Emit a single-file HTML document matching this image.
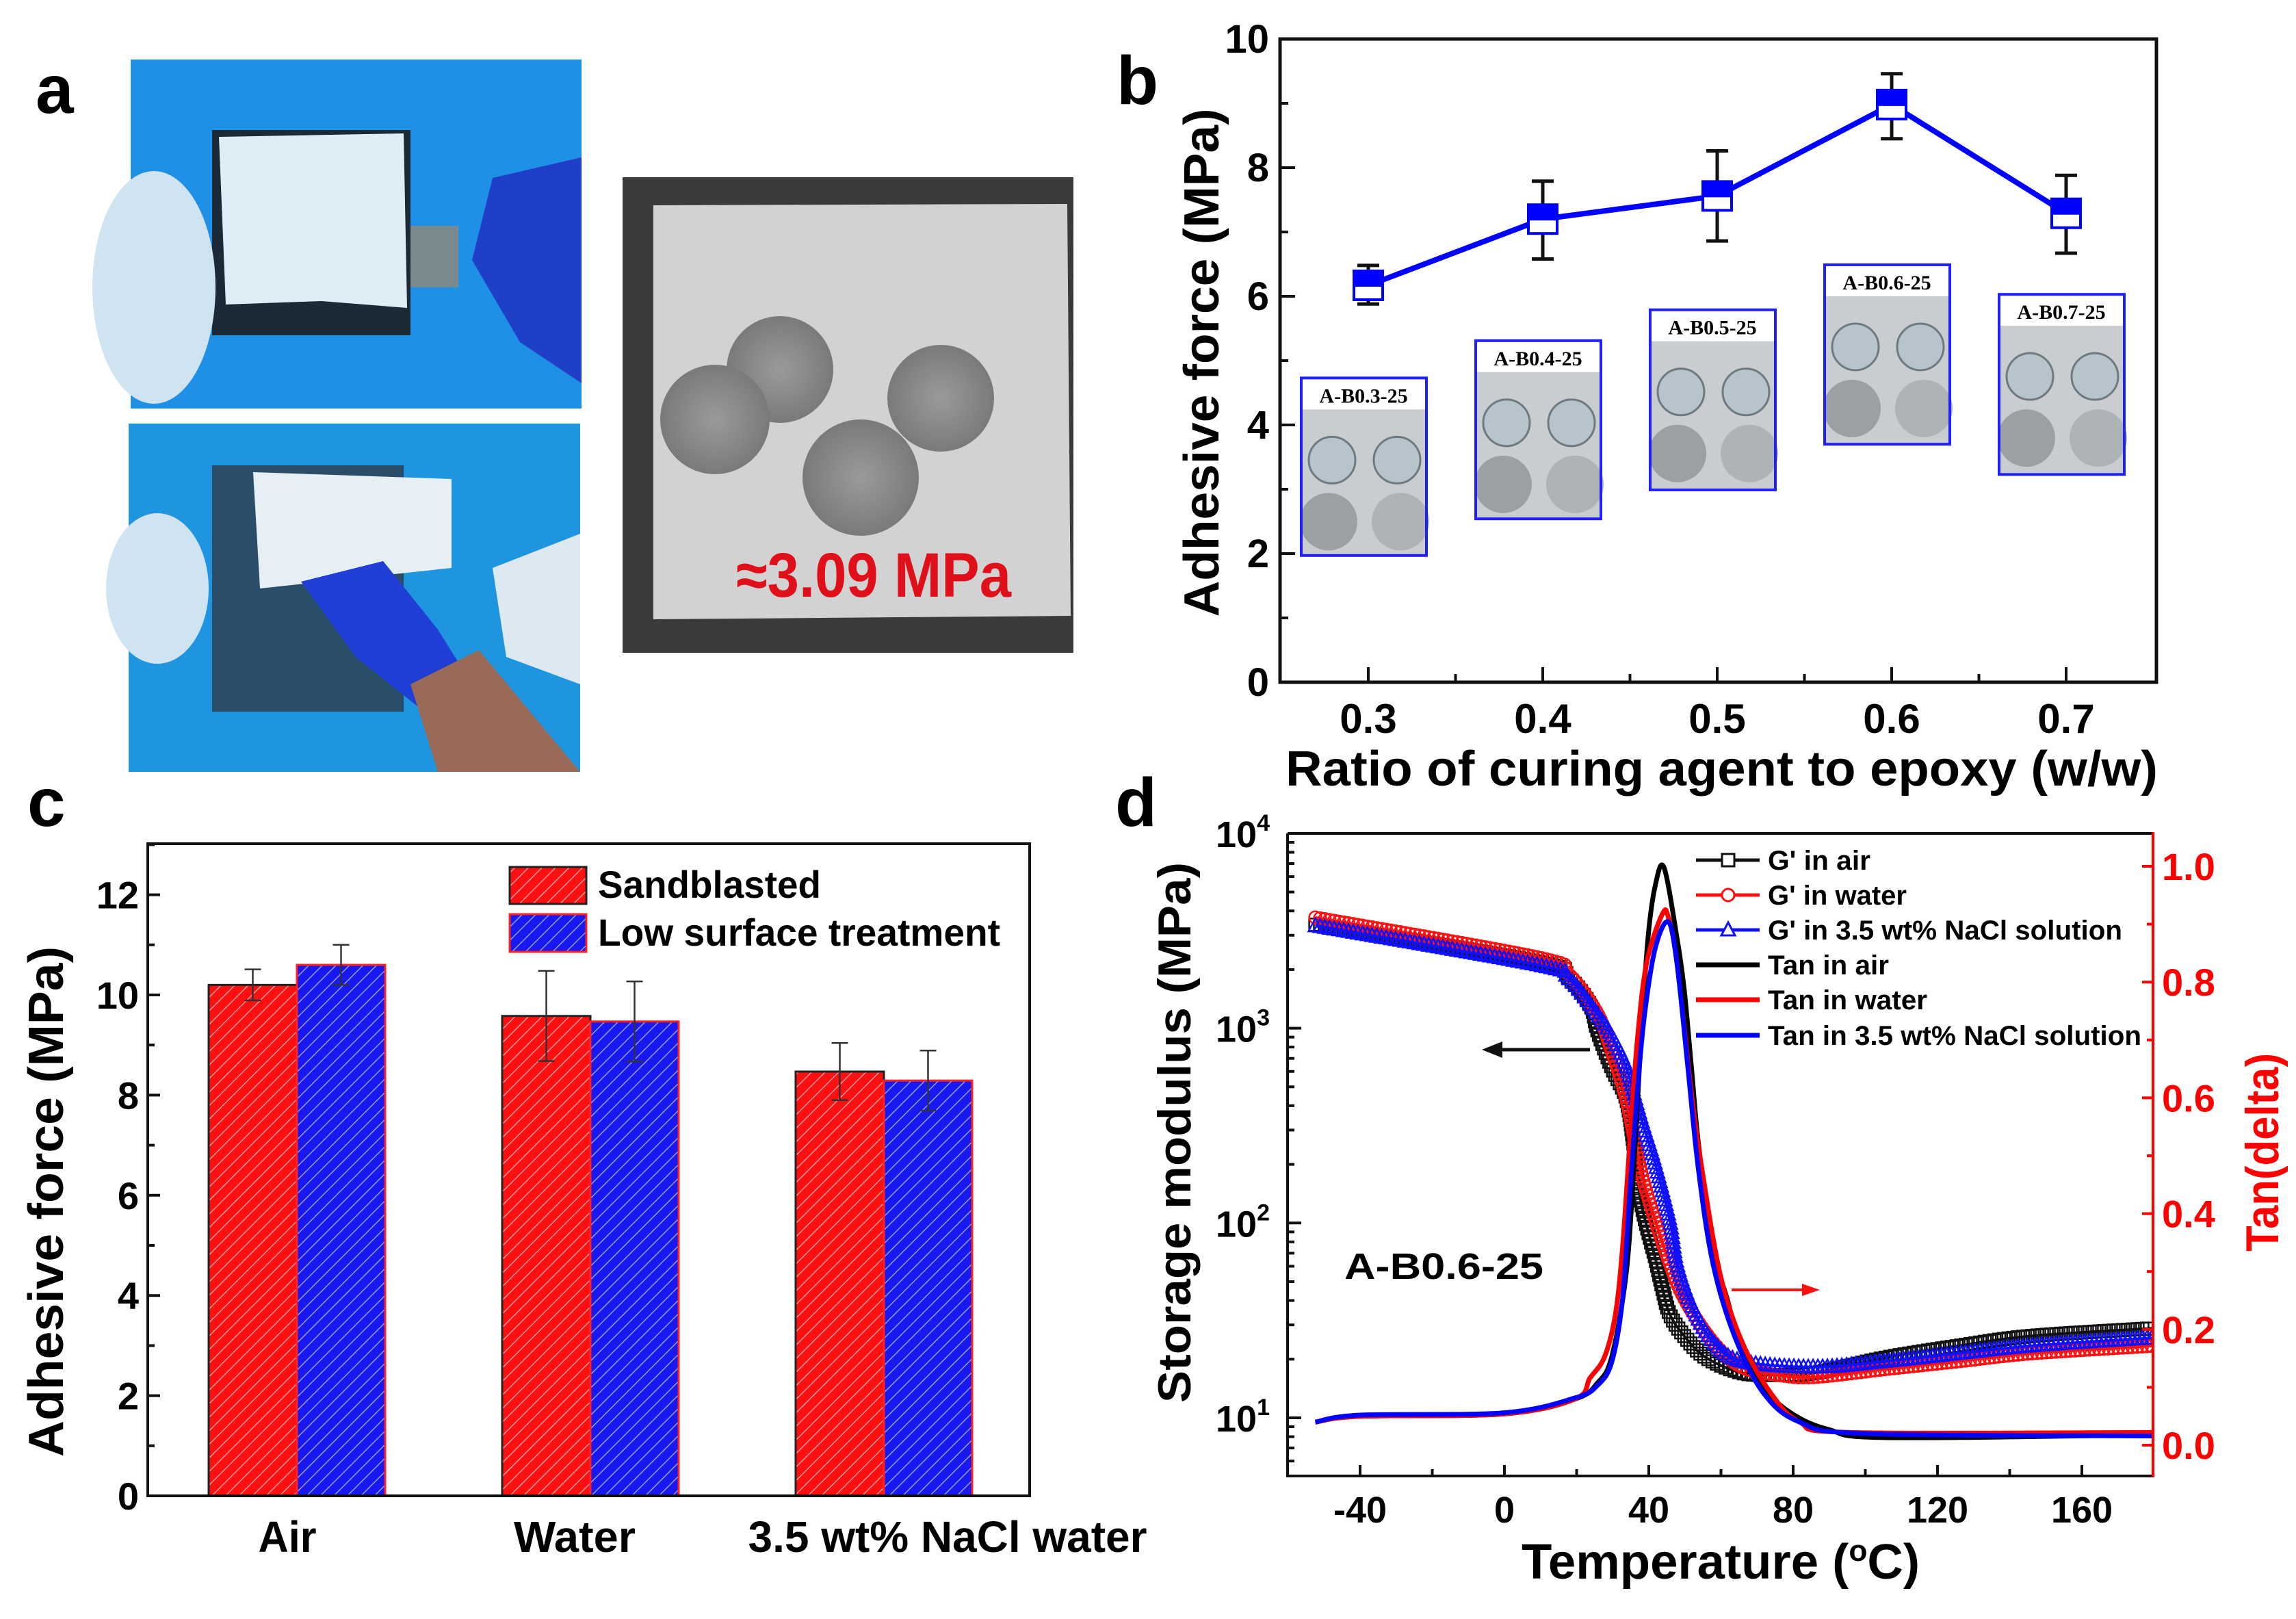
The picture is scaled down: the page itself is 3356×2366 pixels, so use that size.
<!DOCTYPE html>
<html><head><meta charset="utf-8"><style>
html,body{margin:0;padding:0;background:#fff;}
svg{display:block;font-family:"Liberation Sans",Arial,sans-serif;}
</style></head><body>
<svg id="fig" width="3356" height="2366" viewBox="0 0 3356 2366" xmlns="http://www.w3.org/2000/svg">
<defs>
<pattern id="hatchR" width="14" height="14" patternUnits="userSpaceOnUse" patternTransform="rotate(45)">
<rect width="14" height="14" fill="#ff1010"/><line x1="0" y1="0" x2="0" y2="14" stroke="#ff9a9a" stroke-width="3"/></pattern>
<pattern id="hatchB" width="14" height="14" patternUnits="userSpaceOnUse" patternTransform="rotate(45)">
<rect width="14" height="14" fill="#1818f0"/><line x1="0" y1="0" x2="0" y2="14" stroke="#9a9aff" stroke-width="3"/></pattern>
<radialGradient id="disc" cx="50%" cy="50%" r="50%"><stop offset="0" stop-color="#9a9a9a"/><stop offset="1" stop-color="#7a7a7a"/></radialGradient>
</defs>

<text x="52" y="165" font-size="100" font-weight="bold">a</text>
<text x="1632" y="152" font-size="100" font-weight="bold">b</text>
<text x="40" y="1207" font-size="100" font-weight="bold">c</text>
<text x="1630" y="1207" font-size="100" font-weight="bold">d</text>

<g>
<rect x="191" y="87" width="659" height="510" fill="#1e90e6"/>
<rect x="310" y="190" width="290" height="300" fill="#1c2a38"/>
<path d="M320 200 L590 195 L595 450 L470 440 L330 445 Z" fill="#dfeef6"/>
<ellipse cx="225" cy="420" rx="90" ry="170" fill="#cfe3f0"/>
<path d="M720 260 L850 230 L850 560 L760 500 L690 380 Z" fill="#1f3fc8"/>
<rect x="600" y="330" width="70" height="90" fill="#7a8b90"/>
</g>
<g>
<rect x="188" y="619" width="660" height="509" fill="#1f95df"/>
<rect x="310" y="680" width="280" height="360" fill="#2a4d6a"/>
<path d="M370 690 L660 700 L660 830 L380 860 Z" fill="#e6eff4"/>
<ellipse cx="230" cy="860" rx="75" ry="110" fill="#cfe4f0"/>
<path d="M440 850 L560 820 L640 920 L690 1000 L620 1040 L520 960 Z" fill="#1f3fd6"/>
<path d="M600 1000 L700 950 L848 1128 L640 1128 Z" fill="#9a6a58"/>
<path d="M720 830 L848 780 L848 1000 L740 960 Z" fill="#dde9f0"/>
</g>
<g>
<rect x="910" y="259" width="659" height="695" fill="#3a3a3a"/>
<path d="M955 300 L1560 298 L1565 900 L955 905 Z" fill="#d2d2d2"/>
<circle cx="1140" cy="540" r="78" fill="url(#disc)"/>
<circle cx="1045" cy="613" r="80" fill="url(#disc)"/>
<circle cx="1375" cy="582" r="78" fill="url(#disc)"/>
<circle cx="1258" cy="698" r="85" fill="url(#disc)"/>
<text x="1076" y="872" font-size="92" font-weight="bold" fill="#e0101a" textLength="402" lengthAdjust="spacingAndGlyphs">≈3.09 MPa</text>
</g>

<g id="panelB"></g>
<g id="panelC"></g>
<g id="panelD"></g>
</svg>
<script>
// ===== Panel b data =====
const bRatios = [0.3, 0.4, 0.5, 0.6, 0.7];
const bMeans = [6.17, 7.20, 7.56, 8.98, 7.29];
const bErrHi = [6.48, 7.79, 8.26, 9.46, 7.88];
const bErrLo = [5.88, 6.58, 6.86, 8.45, 6.67];
const bYTicks = [0, 2, 4, 6, 8, 10];
const bXTicks = [0.3, 0.4, 0.5, 0.6, 0.7];
const bInsetLabels = ["A-B0.3-25", "A-B0.4-25", "A-B0.5-25", "A-B0.6-25", "A-B0.7-25"];
const bInsetTop = [4.73, 5.31, 5.79, 6.49, 6.03];
const bInsetBottom = [1.97, 2.54, 2.99, 3.70, 3.23];

// ===== Panel c data =====
const cCategories = ["Air", "Water", "3.5 wt% NaCl water"];
const cSandblasted = [10.2, 9.58, 8.47];
const cSandErr = [0.31, 0.9, 0.57];
const cLowSurface = [10.6, 9.47, 8.29];
const cLowErr = [0.4, 0.8, 0.6];
const cYTicks = [0, 2, 4, 6, 8, 10, 12];

// ===== Panel d data =====
const dXTicks = [-40, 0, 40, 80, 120, 160];
const dLogTicks = [1, 2, 3, 4];
const dTanTicks = [0.0, 0.2, 0.4, 0.6, 0.8, 1.0];
const gAirT = [-52.4, 9.7, 17.7, 23.7, 25.7, 29.7, 33.7, 35.8, 37.8, 41.8, 43.8, 45.8, 49.8, 55.8, 65.8, 75.8, 85.9, 105.9, 125.9, 146, 179.4];
const gAirV = [3400, 2190, 1820, 1320, 980, 630, 436, 251, 129, 66, 46, 34, 26.3, 20.4, 17, 16.6, 17, 20.4, 23.4, 26.3, 28.8];
const gWaterT = [-52.4, 9.7, 17.7, 25.7, 29.7, 33.7, 37.8, 41.8, 45.8, 49.8, 57.8, 65.8, 75.8, 85.9, 105.9, 125.9, 146, 179.4];
const gWaterV = [3700, 2300, 1900, 1200, 760, 436, 186, 103, 62, 41, 24.5, 18.2, 16.6, 16.2, 17.8, 19.5, 21.4, 23.4];
const gNaclT = [-52.4, 9.7, 17.7, 25.7, 29.7, 33.7, 37.8, 41.8, 45.8, 47.8, 51.8, 57.8, 65.8, 85.9, 105.9, 125.9, 146, 179.4];
const gNaclV = [3350, 2100, 1800, 1180, 912, 630, 347, 200, 103, 62, 38, 24.5, 19.5, 18.2, 19.5, 21.4, 23.4, 25.7];
const tanAirT = [-52.4, -40, 0, 19.7, 25.7, 29.7, 33.7, 35.8, 37.8, 39.8, 41.8, 44.2, 47.8, 49.8, 51.8, 53.8, 57.8, 61.8, 65.8, 71.8, 79.8, 89.9, 105.9, 179.4];
const tanAirV = [0.04, 0.05, 0.054, 0.08, 0.107, 0.152, 0.295, 0.474, 0.698, 0.877, 0.967, 0.998, 0.877, 0.788, 0.654, 0.519, 0.34, 0.251, 0.161, 0.098, 0.054, 0.027, 0.013, 0.018];
const tanWaterT = [-52.4, -40, 0, 19.7, 23.7, 27.7, 30.7, 32.7, 34.7, 36.8, 39.4, 43.8, 45.5, 47.8, 51.8, 54.8, 59.8, 65.8, 73.8, 81.8, 95.9, 179.4];
const tanWaterV = [0.04, 0.05, 0.054, 0.08, 0.116, 0.152, 0.224, 0.34, 0.519, 0.698, 0.833, 0.918, 0.91, 0.833, 0.609, 0.474, 0.295, 0.179, 0.09, 0.04, 0.022, 0.022];
const tanNaclT = [-52.4, -40, 0, 19.7, 25.7, 29.7, 32.7, 34.7, 36.8, 38.8, 41.8, 45.4, 47.8, 50.8, 53.8, 57.8, 63.8, 71.8, 81.8, 100, 179.4];
const tanNaclV = [0.04, 0.052, 0.056, 0.082, 0.103, 0.143, 0.251, 0.43, 0.609, 0.743, 0.859, 0.904, 0.833, 0.654, 0.474, 0.313, 0.188, 0.09, 0.04, 0.02, 0.016];

const NS = "http://www.w3.org/2000/svg";
function mk(parent, tag, attrs, text) {
  const e = document.createElementNS(NS, tag);
  for (const k in attrs) e.setAttribute(k, attrs[k]);
  if (text !== undefined) e.textContent = text;
  parent.appendChild(e);
  return e;
}

// ================= Panel b =================
(function(){
  const g = document.getElementById('panelB');
  const X0 = 1871, X1 = 3152, Y0 = 57, Y1 = 997;
  const xB = v => 2000 + (v - 0.3) * 2550;
  const yB = v => 997 - v * 94;
  bInsetLabels.forEach((lab, i) => {
    const cx = xB(bRatios[i]) - 7;
    const x = cx - 91, w = 183;
    const yt = yB(bInsetTop[i]), yb = yB(bInsetBottom[i]);
    const ig = mk(g, 'g', {});
    
    
    mk(ig, 'rect', {x: x, y: yt, width: w, height: yb - yt, fill: '#c9cdd0'});
    mk(ig, 'rect', {x: x, y: yt, width: w, height: 46, fill: '#ffffff'});
    mk(ig, 'circle', {cx: x + 45, cy: yt + 120, r: 34, fill: '#b8c4cc', stroke: '#6f7a80', 'stroke-width': 3});
    mk(ig, 'circle', {cx: x + 140, cy: yt + 120, r: 34, fill: '#b8c4cc', stroke: '#6f7a80', 'stroke-width': 3});
    mk(ig, 'circle', {cx: x + 40, cy: yt + 210, r: 42, fill: '#9aa0a4'});
    mk(ig, 'circle', {cx: x + 145, cy: yt + 210, r: 42, fill: '#aeb3b6'});
    mk(ig, 'rect', {x: x, y: yt, width: w, height: yb - yt, fill: 'none', stroke: '#2020ff', 'stroke-width': 4});
    const t = mk(ig, 'text', {x: cx, y: yt + 36, 'font-size': 30, 'font-weight': 'bold', 'font-family': '"Liberation Serif",serif', 'text-anchor': 'middle'}, lab);
    
    
  });
  const fr = mk(g, 'rect', {x: X0, y: Y0, width: X1 - X0, height: Y1 - Y0, fill: 'none', stroke: '#111', 'stroke-width': 5});
  
  
  for (let v = 0; v <= 10; v++) {
    mk(g, 'line', {x1: X0, x2: X0 + (v % 2 ? 12 : 22), y1: yB(v), y2: yB(v), stroke: '#111', 'stroke-width': 4});
  }
  bYTicks.forEach(v => {
    const t = mk(g, 'text', {x: X0 - 16, y: yB(v) + 20, 'font-size': 58, 'font-weight': 'bold', 'text-anchor': 'end'}, String(v));
    
    
  });
  for (let k = 1; k <= 9; k++) {
    const v = 0.25 + k * 0.05;
    mk(g, 'line', {x1: xB(v), x2: xB(v), y1: Y1, y2: Y1 - (k % 2 ? 22 : 12), stroke: '#111', 'stroke-width': 4});
  }
  bXTicks.forEach(v => {
    const t = mk(g, 'text', {x: xB(v), y: 1071, 'font-size': 60, 'font-weight': 'bold', 'text-anchor': 'middle'}, v.toFixed(1));
    
    
  });
  const xt = mk(g, 'text', {x: 1879, y: 1148, 'font-size': 72, 'font-weight': 'bold', textLength: 1275, lengthAdjust: 'spacingAndGlyphs'}, 'Ratio of  curing agent to epoxy (w/w)');
  
  
  const yt = mk(g, 'text', {x: 0, y: 0, 'font-size': 72, 'font-weight': 'bold', 'text-anchor': 'middle', textLength: 743, lengthAdjust: 'spacingAndGlyphs', transform: 'translate(1781,530) rotate(-90)'}, 'Adhesive force (MPa)');
  
  
  const pts = bRatios.map((r, i) => xB(r) + ',' + yB(bMeans[i])).join(' ');
  const pl = mk(g, 'polyline', {points: pts, fill: 'none', stroke: '#0000ff', 'stroke-width': 8});
  
  
  bRatios.forEach((r, i) => {
    const x = xB(r);
    const eg = mk(g, 'g', {});
    
    
    mk(eg, 'line', {x1: x, x2: x, y1: yB(bErrHi[i]), y2: yB(bErrLo[i]), stroke: '#111', 'stroke-width': 5});
    mk(eg, 'line', {x1: x - 16, x2: x + 16, y1: yB(bErrHi[i]), y2: yB(bErrHi[i]), stroke: '#111', 'stroke-width': 5});
    mk(eg, 'line', {x1: x - 16, x2: x + 16, y1: yB(bErrLo[i]), y2: yB(bErrLo[i]), stroke: '#111', 'stroke-width': 5});
    const y = yB(bMeans[i]);
    const m = mk(g, 'g', {});
    
    
    mk(m, 'rect', {x: x - 21, y: y - 21, width: 42, height: 42, fill: '#fff', stroke: '#0000ff', 'stroke-width': 4});
    mk(m, 'rect', {x: x - 21, y: y - 21, width: 42, height: 23, fill: '#0000ff'});
  });
})();

// ================= Panel c =================
(function(){
  const g = document.getElementById('panelC');
  const X0 = 216, X1 = 1505, Y0 = 1233, Y1 = 2186;
  const yC = v => 2186 - v * 73.2;
  const xC = i => 434 + i * 429;
  const BW = 129;
  cCategories.forEach((c, i) => {
    const cx = xC(i);
    const r = mk(g, 'rect', {x: cx - BW, y: yC(cSandblasted[i]), width: BW, height: Y1 - yC(cSandblasted[i]), fill: 'url(#hatchR)', stroke: '#222', 'stroke-width': 3});
    
    
    const b = mk(g, 'rect', {x: cx, y: yC(cLowSurface[i]), width: BW, height: Y1 - yC(cLowSurface[i]), fill: 'url(#hatchB)', stroke: '#ff2020', 'stroke-width': 3});
    
    
    [[cx - BW / 2, cSandblasted[i], cSandErr[i]], [cx + BW / 2, cLowSurface[i], cLowErr[i]]].forEach(([x, v, e]) => {
      const eg = mk(g, 'g', {stroke: '#333', 'stroke-width': 2.5});
      
      
      mk(eg, 'line', {x1: x, x2: x, y1: yC(v + e), y2: yC(v - e)});
      mk(eg, 'line', {x1: x - 12, x2: x + 12, y1: yC(v + e), y2: yC(v + e)});
      mk(eg, 'line', {x1: x - 12, x2: x + 12, y1: yC(v - e), y2: yC(v - e)});
    });
  });
  const catW = [85, 178, 583];
  const catShift = [-14, -23, 93];
  cCategories.forEach((c, i) => {
    const t = mk(g, 'text', {x: xC(i) + catShift[i], y: 2268, 'font-size': 64, 'font-weight': 'bold', 'text-anchor': 'middle', textLength: catW[i], lengthAdjust: 'spacingAndGlyphs'}, c);
    
    
  });
  const fr = mk(g, 'rect', {x: X0, y: Y0, width: X1 - X0, height: Y1 - Y0, fill: 'none', stroke: '#111', 'stroke-width': 4});
  
  
  for (let v = 0; v <= 13; v++) {
    mk(g, 'line', {x1: X0, x2: X0 + (v % 2 ? 10 : 18), y1: yC(v), y2: yC(v), stroke: '#111', 'stroke-width': 4});
  }
  cYTicks.forEach(v => {
    const t = mk(g, 'text', {x: 203, y: yC(v) + 20, 'font-size': 56, 'font-weight': 'bold', 'text-anchor': 'end'}, String(v));
    
    
  });
  const yt = mk(g, 'text', {x: 0, y: 0, 'font-size': 72, 'font-weight': 'bold', 'text-anchor': 'middle', textLength: 746, lengthAdjust: 'spacingAndGlyphs', transform: 'translate(92,1756) rotate(-90)'}, 'Adhesive force (MPa)');
  
  
  const l1 = mk(g, 'g', {});
  
  
  mk(l1, 'rect', {x: 745, y: 1267, width: 112, height: 54, fill: 'url(#hatchR)', stroke: '#222', 'stroke-width': 3});
  mk(l1, 'text', {x: 874, y: 1312, 'font-size': 56, 'font-weight': 'bold', textLength: 326, lengthAdjust: 'spacingAndGlyphs'}, 'Sandblasted');
  const l2 = mk(g, 'g', {});
  
  
  mk(l2, 'rect', {x: 745, y: 1336, width: 112, height: 55, fill: 'url(#hatchB)', stroke: '#ff2020', 'stroke-width': 3});
  mk(l2, 'text', {x: 874, y: 1382, 'font-size': 56, 'font-weight': 'bold', textLength: 588, lengthAdjust: 'spacingAndGlyphs'}, 'Low surface treatment');
})();

// ================= Panel d =================
(function(){
  const g = document.getElementById('panelD');
  const X0 = 1882, X1 = 3147, Y0 = 1218, Y1 = 2157;
  const xD = T => 1988 + (T + 40) * 5.275;
  const yL = v => 2072 - (Math.log10(v) - 1) * 284.7;
  const yR = t => 2112 - t * 846;
  const clip = mk(g, 'clipPath', {id: 'clipD'});
  mk(clip, 'rect', {x: X0, y: Y0, width: X1 - X0, height: Y1 - Y0});
  const plot = mk(g, 'g', {'clip-path': 'url(#clipD)'});

  // smooth Catmull-Rom path through the data points
  function path(Ts, Vs, yf) {
    const P = Ts.map((T, i) => [xD(T), yf(Vs[i])]);
    let d = 'M' + P[0][0].toFixed(1) + ' ' + P[0][1].toFixed(1);
    for (let i = 0; i < P.length - 1; i++) {
      const p0 = P[i - 1] || P[i], p1 = P[i], p2 = P[i + 1], p3 = P[i + 2] || P[i + 1];
      const c1 = [p1[0] + (p2[0] - p0[0]) / 6, p1[1] + (p2[1] - p0[1]) / 6];
      const c2 = [p2[0] - (p3[0] - p1[0]) / 6, p2[1] - (p3[1] - p1[1]) / 6];
      d += ` C${c1[0].toFixed(1)} ${c1[1].toFixed(1)} ${c2[0].toFixed(1)} ${c2[1].toFixed(1)} ${p2[0].toFixed(1)} ${p2[1].toFixed(1)}`;
    }
    return d;
  }
  function markers(pEl, color, shape, nameStr) {
    const mg = mk(plot, 'g', {fill: 'none', stroke: color, 'stroke-width': 2.5});
    
    
    const L = pEl.getTotalLength();
    for (let s = 0; s <= L; s += 7) {
      const p = pEl.getPointAtLength(s);
      if (shape === 'sq') mk(mg, 'rect', {x: p.x - 9, y: p.y - 9, width: 18, height: 18});
      else if (shape === 'ci') mk(mg, 'circle', {cx: p.x, cy: p.y, r: 9});
      else mk(mg, 'path', {d: `M${p.x} ${p.y - 11} L${p.x + 10} ${p.y + 8} L${p.x - 10} ${p.y + 8} Z`});
    }
  }
  const series = [
    [gAirT, gAirV, '#111', 'sq', 'g-prime-air'],
    [gWaterT, gWaterV, '#ff1010', 'ci', 'g-prime-water'],
    [gNaclT, gNaclV, '#1010ff', 'tr', 'g-prime-nacl'],
  ];
  series.forEach(([T, V, c, sh, nm]) => {
    const p = mk(plot, 'path', {d: path(T, V, yL), fill: 'none', stroke: c, 'stroke-width': 4});
    
    
    markers(p, c, sh, nm + '-markers');
  });
  [[tanAirT, tanAirV, '#000', 'tan-air-line'], [tanWaterT, tanWaterV, '#ff0000', 'tan-water-line'], [tanNaclT, tanNaclV, '#0000ff', 'tan-nacl-line']].forEach(([T, V, c, nm]) => {
    const p = mk(plot, 'path', {d: path(T, V, yR), fill: 'none', stroke: c, 'stroke-width': 7, 'stroke-linejoin': 'round'});
    
    
  });
  const fr = mk(g, 'path', {d: `M${X0} ${Y0} L${X1} ${Y0} M${X0} ${Y0} L${X0} ${Y1} L${X1} ${Y1}`, fill: 'none', stroke: '#111', 'stroke-width': 4});
  
  
  mk(g, 'line', {x1: X1, x2: X1, y1: Y0 - 2, y2: Y1 + 2, stroke: '#ff0000', 'stroke-width': 4});
  for (let T = -40; T <= 160; T += 20) {
    mk(g, 'line', {x1: xD(T), x2: xD(T), y1: Y1, y2: Y1 - (T % 40 === 0 ? 16 : 10), stroke: '#111', 'stroke-width': 4});
  }
  dXTicks.forEach(T => {
    const t = mk(g, 'text', {x: xD(T), y: 2225, 'font-size': 54, 'font-weight': 'bold', 'text-anchor': 'middle'}, String(T));
    
    
  });
  for (let d = 0; d <= 3; d++) {
    for (let m = 1; m <= 9; m++) {
      const v = Math.pow(10, d) * m;
      const y = yL(v);
      if (y < Y0 - 1 || y > Y1) continue;
      mk(g, 'line', {x1: X0, x2: X0 + (m === 1 ? 20 : 10), y1: y, y2: y, stroke: '#111', 'stroke-width': 4});
    }
  }
  dLogTicks.forEach(p => {
    const t = mk(g, 'text', {x: 1856, y: yL(Math.pow(10, p)) + 20, 'font-size': 54, 'font-weight': 'bold', 'text-anchor': 'end'});
    
    
    mk(t, 'tspan', {}, '10');
    mk(t, 'tspan', {dy: -24, 'font-size': 34}, String(p));
  });
  for (let k = 0; k <= 10; k++) {
    const v = k * 0.1;
    mk(g, 'line', {x1: X1, x2: X1 - (k % 2 ? 9 : 16), y1: yR(v), y2: yR(v), stroke: '#ff0000', 'stroke-width': 4});
  }
  dTanTicks.forEach(v => {
    const t = mk(g, 'text', {x: 3160, y: yR(v) + 20, 'font-size': 56, 'font-weight': 'bold', fill: '#ff0000'}, v.toFixed(1));
    
    
  });
  const xt = mk(g, 'text', {x: 2515, y: 2307, 'font-size': 72, 'font-weight': 'bold', 'text-anchor': 'middle', textLength: 582, lengthAdjust: 'spacingAndGlyphs'});
  
  
  mk(xt, 'tspan', {}, 'Temperature (');
  mk(xt, 'tspan', {dy: -26, 'font-size': 44}, 'o');
  mk(xt, 'tspan', {dy: 26}, 'C)');
  const yt = mk(g, 'text', {x: 0, y: 0, 'font-size': 68, 'font-weight': 'bold', 'text-anchor': 'middle', textLength: 790, lengthAdjust: 'spacingAndGlyphs', transform: 'translate(1740,1655) rotate(-90)'}, 'Storage modulus (MPa)');
  
  
  const yt2 = mk(g, 'text', {x: 0, y: 0, 'font-size': 68, 'font-weight': 'bold', 'text-anchor': 'middle', fill: '#ff0000', textLength: 290, lengthAdjust: 'spacingAndGlyphs', transform: 'translate(3330,1684) rotate(-90)'}, 'Tan(delta)');
  
  
  const sl = mk(g, 'text', {x: 1965, y: 1869, 'font-size': 54, 'font-weight': 'bold', textLength: 291, lengthAdjust: 'spacingAndGlyphs'}, 'A-B0.6-25');
  
  
  const a1 = mk(g, 'g', {});
  
  
  mk(a1, 'line', {x1: 2324, x2: 2190, y1: 1534, y2: 1534, stroke: '#111', 'stroke-width': 5});
  mk(a1, 'path', {d: 'M2166 1534 L2196 1522 L2196 1546 Z', fill: '#111'});
  const a2 = mk(g, 'g', {});
  
  
  mk(a2, 'line', {x1: 2531, x2: 2640, y1: 1885, y2: 1885, stroke: '#ff1010', 'stroke-width': 4});
  mk(a2, 'path', {d: 'M2660 1885 L2634 1876 L2634 1894 Z', fill: '#ff1010'});
  const legItems = [
    ["G' in air", '#111', 'sq'], ["G' in water", '#ff1010', 'ci'], ["G' in 3.5 wt% NaCl solution", '#1010ff', 'tr'],
    ['Tan in air', '#000', ''], ['Tan in water', '#ff0000', ''], ['Tan in 3.5 wt% NaCl solution', '#0000ff', '']];
  const legY = [1257, 1308, 1359, 1410, 1461, 1513];
  const legW = [150, 203, 518, 177, 233, 546];
  legItems.forEach(([lab, c, sh], i) => {
    const lg = mk(g, 'g', {});
    
    
    const y = legY[i];
    mk(lg, 'line', {x1: 2479, x2: 2572, y1: y, y2: y, stroke: c, 'stroke-width': sh ? 5 : 7});
    if (sh === 'sq') mk(lg, 'rect', {x: 2517, y: y - 9, width: 18, height: 18, fill: '#fff', stroke: c, 'stroke-width': 3});
    if (sh === 'ci') mk(lg, 'circle', {cx: 2526, cy: y, r: 9, fill: '#fff', stroke: c, 'stroke-width': 3});
    if (sh === 'tr') mk(lg, 'path', {d: `M2526 ${y - 11} L2536 ${y + 8} L2516 ${y + 8} Z`, fill: '#fff', stroke: c, 'stroke-width': 3});
    mk(lg, 'text', {x: 2584, y: y + 14, 'font-size': 40, 'font-weight': 'bold', textLength: legW[i], lengthAdjust: 'spacingAndGlyphs'}, lab);
  });
})();
</script>
</body></html>
